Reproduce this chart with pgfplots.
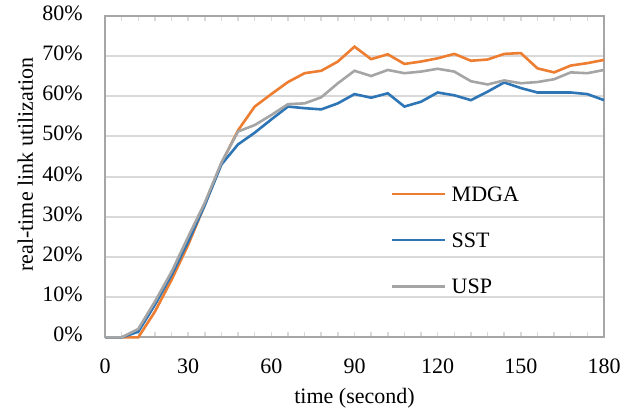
\documentclass[border=0pt]{standalone}
\usepackage{fontspec}
\setmainfont{Liberation Serif}
\usepackage{pgfplots}
\pgfplotsset{compat=1.18}
\usepackage{pgfplotstable}
\definecolor{cOrange}{HTML}{ED7D31}
\definecolor{cBlue}{HTML}{2E75B6}
\definecolor{cGray}{HTML}{A5A5A5}
\definecolor{cGrid}{HTML}{D9D9D9}
\definecolor{cAxis}{HTML}{A6A6A6}
\pgfplotstableread{
t   mdga  sst   usp
0   0     0     0
6   0     0     0
12  0     1.4   2.1
18  6.4   8.1   8.9
24  14.3  15.5  16.3
30  23.0  23.8  25.0
36  33.0  32.9  33.5
42  43.3  43.0  43.5
48  51.5  48.0  51.2
54  57.4  50.9  52.8
60  60.5  54.2  55.3
66  63.5  57.4  58.0
72  65.7  57.0  58.2
78  66.3  56.7  59.7
84  68.6  58.2  63.2
90  72.3  60.5  66.3
96  69.2  59.6  65.0
102 70.4  60.7  66.5
108 68.0  57.4  65.7
114 68.6  58.6  66.1
120 69.4  60.9  66.8
126 70.5  60.2  66.1
132 68.8  59.0  63.7
138 69.1  61.1  62.9
144 70.5  63.4  63.9
150 70.7  62.0  63.2
156 66.9  60.9  63.5
162 65.9  60.9  64.2
168 67.6  60.9  65.9
174 68.2  60.5  65.7
180 69.0  59.0  66.5
}\datatable
\begin{document}
\fontsize{22bp}{26bp}\selectfont
\begin{tikzpicture}
\begin{axis}[
  scale only axis,
  set layers,
  clip=false,
  width=499bp, height=321.7bp,
  xmin=0, xmax=180, ymin=0, ymax=80,
  axis line style={draw=cAxis, line width=2bp},
  xtick={0,30,...,180},
  xticklabels={0,30,60,90,120,150,180},
  minor xtick={6,12,18,24,36,42,48,54,66,72,78,84,96,102,108,114,126,132,138,144,156,162,168,174},
  ytick={0,10,...,80},
  yticklabels={0\%,10\%,20\%,30\%,40\%,50\%,60\%,70\%,80\%},
  xtick align=inside,
  major tick length=5bp, minor tick length=5bp,
  xtick style={draw=cGrid, line width=1.5bp},
  minor x tick style={draw=cGrid, line width=1.5bp},
  ytick style={draw=none},
  ymajorgrids,
  major grid style={draw=cGrid, line width=2bp},
  yticklabel style={anchor=base east, inner sep=0pt, xshift=-22bp, yshift=-4.6bp},
  xticklabel style={anchor=base, inner sep=0pt, yshift=-36bp},
  xlabel={time (second)},
  ylabel={real-time link utilization},
  xlabel style={at={(axis description cs:0.5,-0.207)}, anchor=base},
  ylabel style={at={(axis description cs:-0.1443,0.537)}, anchor=base, rotate=0},
  legend image code/.code={\draw[#1] (0bp,7.3bp) -- (53bp,7.3bp);},
  legend cell align=left,
  legend style={at={(axis description cs:0.573,0.469)}, anchor=north west, draw=none, fill=none, inner sep=0pt, row sep=31.5bp, column sep=5bp, nodes={inner sep=0pt, text height=14.6bp, text depth=0bp, anchor=base west}},
]
\addplot[cOrange, line width=2.6bp] table[x=t, y=mdga] {\datatable};
\addlegendentry{MDGA}
\addplot[cBlue, line width=2.6bp] table[x=t, y=sst] {\datatable};
\addlegendentry{SST}
\addplot[cGray, line width=2.6bp] table[x=t, y=usp] {\datatable};
\addlegendentry{USP}
\coordinate (O) at (rel axis cs:0,0);
\coordinate (T) at (rel axis cs:1,1);
\end{axis}
\path (O) ++(-105bp,-75.6bp) coordinate (a);
\path (T) ++(33bp,15.7bp) coordinate (b);
\pgfresetboundingbox
\useasboundingbox (a) rectangle (b);
\end{tikzpicture}
\end{document}
